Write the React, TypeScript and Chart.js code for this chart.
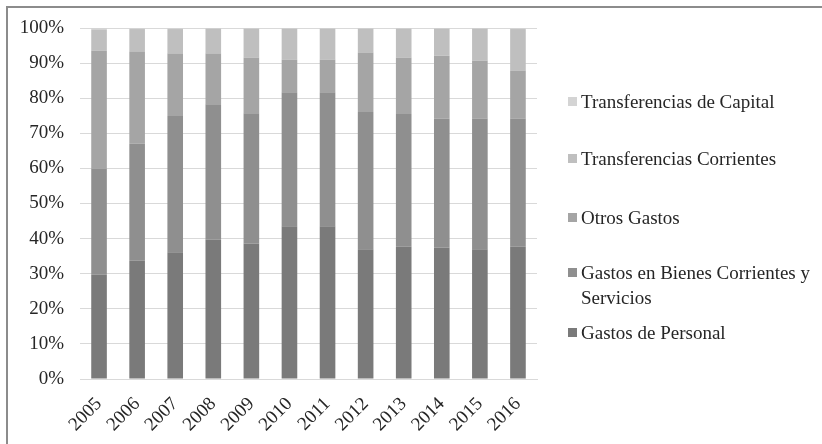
import React, { useEffect, useRef } from "react";
import { Chart, registerables } from "chart.js";

Chart.register(...registerables);

const years = ["2005", "2006", "2007", "2008", "2009", "2010", "2011", "2012", "2013", "2014", "2015", "2016"];
const gastosPersonal = [29.7, 33.7, 36.1, 39.7, 38.6, 43.5, 43.5, 37.0, 37.7, 37.5, 37.0, 37.7];
const gastosBienes = [30.3, 33.3, 38.8, 38.6, 37.1, 38.2, 38.2, 39.1, 37.8, 36.7, 37.2, 36.5];
const otrosGastos = [33.6, 26.2, 17.8, 14.4, 15.9, 9.3, 9.3, 16.9, 16.1, 18.0, 16.5, 13.7];
const transfCorrientes = [6.0, 6.5, 7.0, 7.1, 8.2, 8.8, 8.8, 6.8, 8.2, 7.6, 9.1, 11.8];
const transfCapital = [0.4, 0.3, 0.3, 0.2, 0.2, 0.2, 0.2, 0.2, 0.2, 0.2, 0.2, 0.3];
const yTicks = [0, 10, 20, 30, 40, 50, 60, 70, 80, 90, 100];

const seriesNames = [
  "Gastos de Personal",
  "Gastos en Bienes Corrientes y Servicios",
  "Otros Gastos",
  "Transferencias Corrientes",
  "Transferencias de Capital",
];
const seriesData = [gastosPersonal, gastosBienes, otrosGastos, transfCorrientes, transfCapital];
const seriesColors = ["#7a7a7a", "#8f8f8f", "#a5a5a5", "#bfbfbf", "#d4d4d4"];

const legendTops = [320, 260, 205, 146, 89];

const FONT = "'Liberation Serif', 'Times New Roman', serif";

export default function App() {
  const ref = useRef<HTMLCanvasElement | null>(null);

  useEffect(() => {
    if (!ref.current) return;
    const chart = new Chart(ref.current, {
      type: "bar",
      data: {
        labels: years,
        datasets: seriesNames.map((n, i) => ({
          label: n,
          data: seriesData[i],
          backgroundColor: seriesColors[i],
          borderWidth: 0,
          barPercentage: 0.41,
          categoryPercentage: 1,
        })),
      },
      options: {
        responsive: false,
        animation: false,
        layout: { padding: { top: 28, right: 285, bottom: 0, left: 0 } },
        plugins: { legend: { display: false }, tooltip: { enabled: false }, title: { display: false } },
        scales: {
          x: {
            stacked: true,
            grid: { display: false },
            border: { display: true, color: "#d9d9d9" },
            ticks: {
              autoSkip: false,
              minRotation: 45,
              maxRotation: 45,
              color: "#262626",
              padding: 6,
              font: { family: FONT, size: 19 },
            },
            afterFit: (s: any) => {
              s.height = 65;
            },
          },
          y: {
            stacked: true,
            min: 0,
            max: 100,
            afterBuildTicks: (s: any) => {
              s.ticks = yTicks.map((v) => ({ value: v }));
            },
            ticks: {
              callback: (v: any) => v + "%",
              color: "#262626",
              padding: 16,
              font: { family: FONT, size: 19 },
            },
            grid: { color: "#d9d9d9", drawTicks: false, lineWidth: 1 },
            border: { display: false },
            afterFit: (s: any) => {
              s.width = 80;
            },
          },
        },
      },
    });
    return () => chart.destroy();
  }, []);

  return (
    <div style={{ position: "absolute", left: 0, top: 0, width: 822, height: 444, overflow: "hidden", background: "#fff" }}>
      <div
        style={{
          position: "absolute",
          left: 6,
          top: 6,
          width: 840,
          height: 460,
          border: "2px solid #8c8c8c",
          boxSizing: "border-box",
        }}
      />
      <canvas ref={ref} width={822} height={444} style={{ position: "absolute", left: 0, top: 0 }} />
      {seriesNames.map((n, i) => (
        <div
          key={n}
          style={{
            position: "absolute",
            left: 568,
            top: legendTops[i],
            width: 250,
            display: "flex",
            alignItems: "flex-start",
            fontFamily: FONT,
            fontSize: 19,
            lineHeight: "25px",
            color: "#262626",
          }}
        >
          <span
            style={{
              display: "inline-block",
              width: 9,
              height: 9,
              marginTop: 8,
              marginRight: 4,
              background: seriesColors[i],
              flex: "none",
            }}
          />
          <span style={{ width: 237 }}>{n}</span>
        </div>
      ))}
    </div>
  );
}
